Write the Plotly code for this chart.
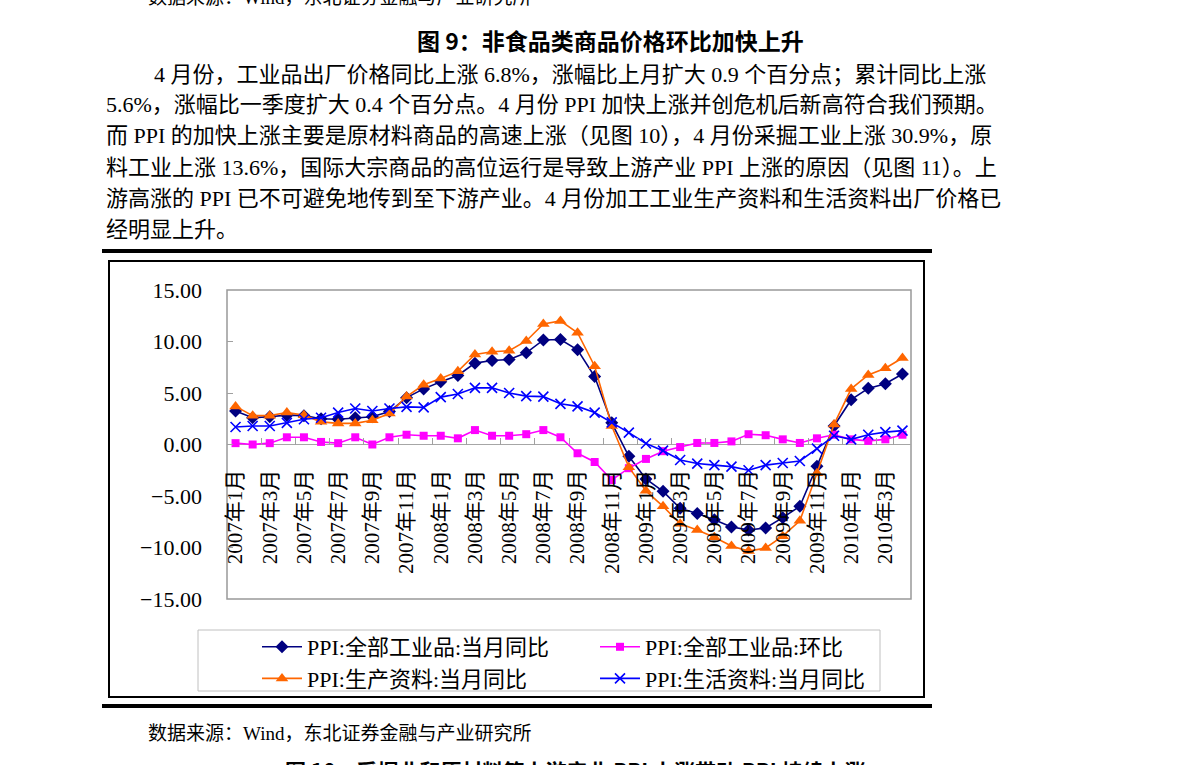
import plotly.graph_objects as go

months = [f"{y}年{m}月" for y, m in
          [(2007, i) for i in range(1, 13)] + [(2008, i) for i in range(1, 13)] +
          [(2009, i) for i in range(1, 13)] + [(2010, i) for i in range(1, 5)]]

ppi_all_yoy = [3.25, 2.6, 2.7, 2.85, 2.8, 2.5, 2.45, 2.6, 2.7, 3.2, 4.55, 5.4,
               6.1, 6.7, 7.9, 8.15, 8.25, 8.9, 10.15, 10.2, 9.2, 6.6, 2.1, -1.15,
               -3.35, -4.55, -6.2, -6.7, -7.3, -8.0, -8.3, -8.1, -7.1, -6.0, -2.1, 1.8,
               4.35, 5.45, 5.9, 6.85]
ppi_all_mom = [0.13, 0.0, 0.13, 0.7, 0.7, 0.25, 0.13, 0.7, 0.0, 0.7, 0.95, 0.85,
               0.85, 0.6, 1.4, 0.85, 0.85, 1.0, 1.4, 0.7, -0.85, -1.7, -3.45, -2.3,
               -1.4, -0.65, -0.25, 0.15, 0.15, 0.3, 1.0, 0.9, 0.5, 0.15, 0.6, 0.95,
               0.5, 0.35, 0.5, 0.95]
ppi_prod_yoy = [3.7, 2.8, 2.8, 3.1, 2.85, 2.2, 2.05, 2.05, 2.35, 3.0, 4.65, 5.8,
                6.4, 7.1, 8.75, 9.0, 9.1, 10.05, 11.7, 12.0, 10.85, 7.6, 1.8, -2.2,
                -4.5, -6.0, -7.7, -8.3, -9.0, -9.85, -10.35, -10.05, -8.9, -7.4, -2.8, 1.95,
                5.4, 6.75, 7.4, 8.4]
ppi_cons_yoy = [1.7, 1.8, 1.8, 2.1, 2.45, 2.6, 3.1, 3.5, 3.25, 3.5, 3.65, 3.6,
                4.6, 4.9, 5.5, 5.5, 5.0, 4.7, 4.65, 3.95, 3.7, 3.1, 2.15, 1.15,
                0.1, -0.6, -1.5, -1.85, -2.0, -2.15, -2.5, -2.0, -1.8, -1.6, -0.4, 0.85,
                0.5, 0.95, 1.2, 1.35]

series_names = ["PPI:全部工业品:当月同比", "PPI:全部工业品:环比",
                "PPI:生产资料:当月同比", "PPI:生活资料:当月同比"]

ytick_vals = [-15, -10, -5, 0, 5, 10, 15]
ytick_text = ["−15.00", "−10.00", "−5.00", "0.00", "5.00", "10.00", "15.00"]
xtick_vals = months[::2]

W, H = 1191, 765
L, R, T, B = 227, 911, 290, 599


def px(x):
    return (x - L) / (R - L)


def py(y):
    return (B - y) / (B - T)


SERIF = "Liberation Serif, Noto Sans CJK SC"
CJK = "Noto Sans CJK SC"

fig = go.Figure()
fig.add_trace(go.Scatter(x=months, y=ppi_all_yoy, name=series_names[0], mode="lines+markers",
                         line=dict(color="#000080", width=1.6),
                         marker=dict(symbol="diamond", size=10, color="#000080")))
fig.add_trace(go.Scatter(x=months, y=ppi_all_mom, name=series_names[1], mode="lines+markers",
                         line=dict(color="#FF00FF", width=1.6),
                         marker=dict(symbol="square", size=8, color="#FF00FF")))
fig.add_trace(go.Scatter(x=months, y=ppi_prod_yoy, name=series_names[2], mode="lines+markers",
                         line=dict(color="#FF6600", width=1.6),
                         marker=dict(symbol="triangle-up", size=11, color="#FF6600")))
fig.add_trace(go.Scatter(x=months, y=ppi_cons_yoy, name=series_names[3], mode="lines+markers",
                         line=dict(color="#0000FF", width=1.6),
                         marker=dict(symbol="x-thin", size=10, color="#0000FF",
                                     line=dict(color="#0000FF", width=1.6))))

fig.update_layout(
    width=W, height=H,
    margin=dict(l=L, r=W - R, t=T, b=H - B, autoexpand=False),
    paper_bgcolor="white", plot_bgcolor="white",
    showlegend=True,
    legend=dict(orientation="h", xref="container", yref="container",
                x=257 / W, y=(H - 626) / H, xanchor="left", yanchor="top",
                itemwidth=40, entrywidth=283, entrywidthmode="pixels", traceorder="normal",
                font=dict(family=SERIF, size=22, color="black"),
                bgcolor="rgba(0,0,0,0)", borderwidth=0),
    xaxis=dict(type="category", range=[-0.5, len(months) - 0.5],
               tickmode="array", tickvals=xtick_vals, ticktext=xtick_vals,
               tickangle=-90, tickson="boundaries", ticks="inside", ticklen=7,
               tickcolor="#a0a0a0", showgrid=False, showline=False, zeroline=False,
               anchor="free", position=0.5, ticklabelstandoff=20,
               tickfont=dict(family=SERIF, size=21, color="black")),
    yaxis=dict(range=[-15, 15], tickmode="array", tickvals=ytick_vals, ticktext=ytick_text,
               ticks="inside", ticklen=6, tickcolor="#a0a0a0", showgrid=False,
               zeroline=True, zerolinecolor="#a6a6a6", zerolinewidth=1,
               showline=False, ticklabelstandoff=24,
               tickfont=dict(family=SERIF, size=22, color="black")),
)

shapes = []
# plot area border
shapes.append(dict(type="rect", xref="paper", yref="paper", x0=0, x1=1, y0=0, y1=1,
                   line=dict(color="#999999", width=1.5), layer="below"))
# chart outer border
shapes.append(dict(type="rect", xref="paper", yref="paper", x0=px(109), x1=px(924),
                   y0=py(697), y1=py(261), line=dict(color="black", width=2)))
# legend border
shapes.append(dict(type="rect", xref="paper", yref="paper", x0=px(198), x1=px(880),
                   y0=py(691), y1=py(630), line=dict(color="#c0c0c0", width=1)))
# thick rules
for yy in (251, 706):
    shapes.append(dict(type="line", xref="paper", yref="paper", x0=px(102), x1=px(932),
                       y0=py(yy), y1=py(yy), line=dict(color="black", width=4)))
fig.update_layout(shapes=shapes)

annots = []
annots.append(dict(text="数据来源：Wind，东北证券金融与产业研究所", x=px(146), y=py(-3),
                   xanchor="left", yanchor="middle", font=dict(family=SERIF, size=19)))
annots.append(dict(text="<b>图 9：非食品类商品价格环比加快上升</b>", x=px(610), y=py(40),
                   xanchor="center", yanchor="middle", font=dict(family=CJK, size=23)))
para = [
    (152, 74, "4 月份，工业品出厂价格同比上涨 6.8%，涨幅比上月扩大 0.9 个百分点；累计同比上涨"),
    (104, 104, "5.6%，涨幅比一季度扩大 0.4 个百分点。4 月份 PPI 加快上涨并创危机后新高符合我们预期。"),
    (104, 135, "而 PPI 的加快上涨主要是原材料商品的高速上涨（见图 10），4 月份采掘工业上涨 30.9%，原"),
    (104, 167, "料工业上涨 13.6%，国际大宗商品的高位运行是导致上游产业 PPI 上涨的原因（见图 11）。上"),
    (104, 198, "游高涨的 PPI 已不可避免地传到至下游产业。4 月份加工工业生产资料和生活资料出厂价格已"),
    (104, 229, "经明显上升。"),
]
for x0, y0, t in para:
    annots.append(dict(text=t, x=px(x0), y=py(y0), xanchor="left", yanchor="middle",
                       font=dict(family=SERIF, size=22)))
annots.append(dict(text="数据来源：Wind，东北证券金融与产业研究所", x=px(146), y=py(733),
                   xanchor="left", yanchor="middle", font=dict(family=SERIF, size=19)))
annots.append(dict(text="<b>图 10：采掘业和原材料等上游产业 PPI 上涨带动 PPI 持续上涨</b>",
                   x=px(283), y=py(770), xanchor="left", yanchor="middle",
                   font=dict(family=CJK, size=21)))
for a in annots:
    a.update(xref="paper", yref="paper", showarrow=False)
    a["font"]["color"] = "black"
fig.update_layout(annotations=annots)

fig.write_html("out.html", config={"displayModeBar": False},
               post_script="document.body.style.margin='0';document.body.style.overflow='hidden';")
